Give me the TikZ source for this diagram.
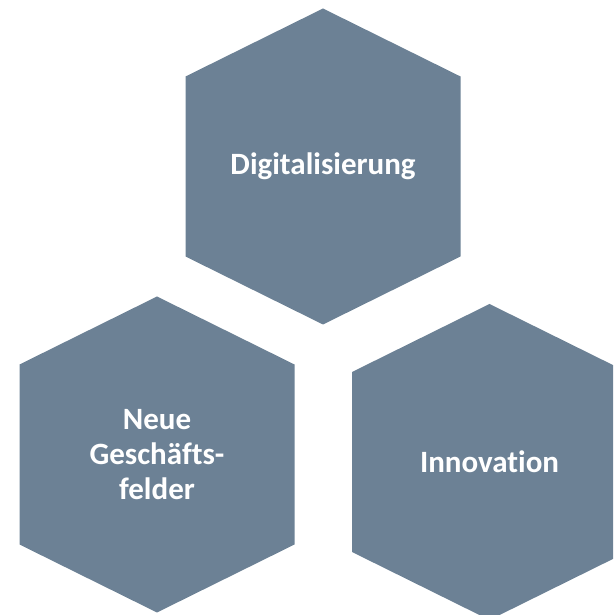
\documentclass[tikz,border=0pt]{standalone}
\usepackage{fontspec}
\setmainfont[Ligatures=NoCommon]{Carlito}
\definecolor{hex_grey}{RGB}{108,129,149}
\tikzstyle{hx}=[fill=hex_grey,draw=none]
\tikzstyle{lbl}=[text=white,font=\bfseries\fontsize{31}{35}\selectfont,
  align=center,inner sep=0pt]
\newcommand{\hexat}[1]{(#1) ++(0,158) -- ++(137.5,-68) -- ++(0,-180)
  -- ++(-137.5,-68) -- ++(-137.5,68) -- ++(0,180) -- cycle}

\begin{document}
\begin{tikzpicture}[x=1pt,y=1pt]
        \useasboundingbox (0,0) rectangle (613,615);
        \clip (0,0) rectangle (613,615);
        \coordinate (ct) at (323,448.5);
        \coordinate (cl) at (157,160.5);
        \coordinate (cr) at (489.5,153);
        \fill [style=hx] \hexat{ct};
        \fill [style=hx] \hexat{cl};
        \fill [style=hx] \hexat{cr};
        \node [style=lbl] (digi) at (ct) {Digitalisierung};
        \node [style=lbl] (neu) at (cl) {Neue\\Geschäfts-\\felder};
        \node [style=lbl] (inno) at (cr) {Innovation};
    \end{tikzpicture}
\end{document}
